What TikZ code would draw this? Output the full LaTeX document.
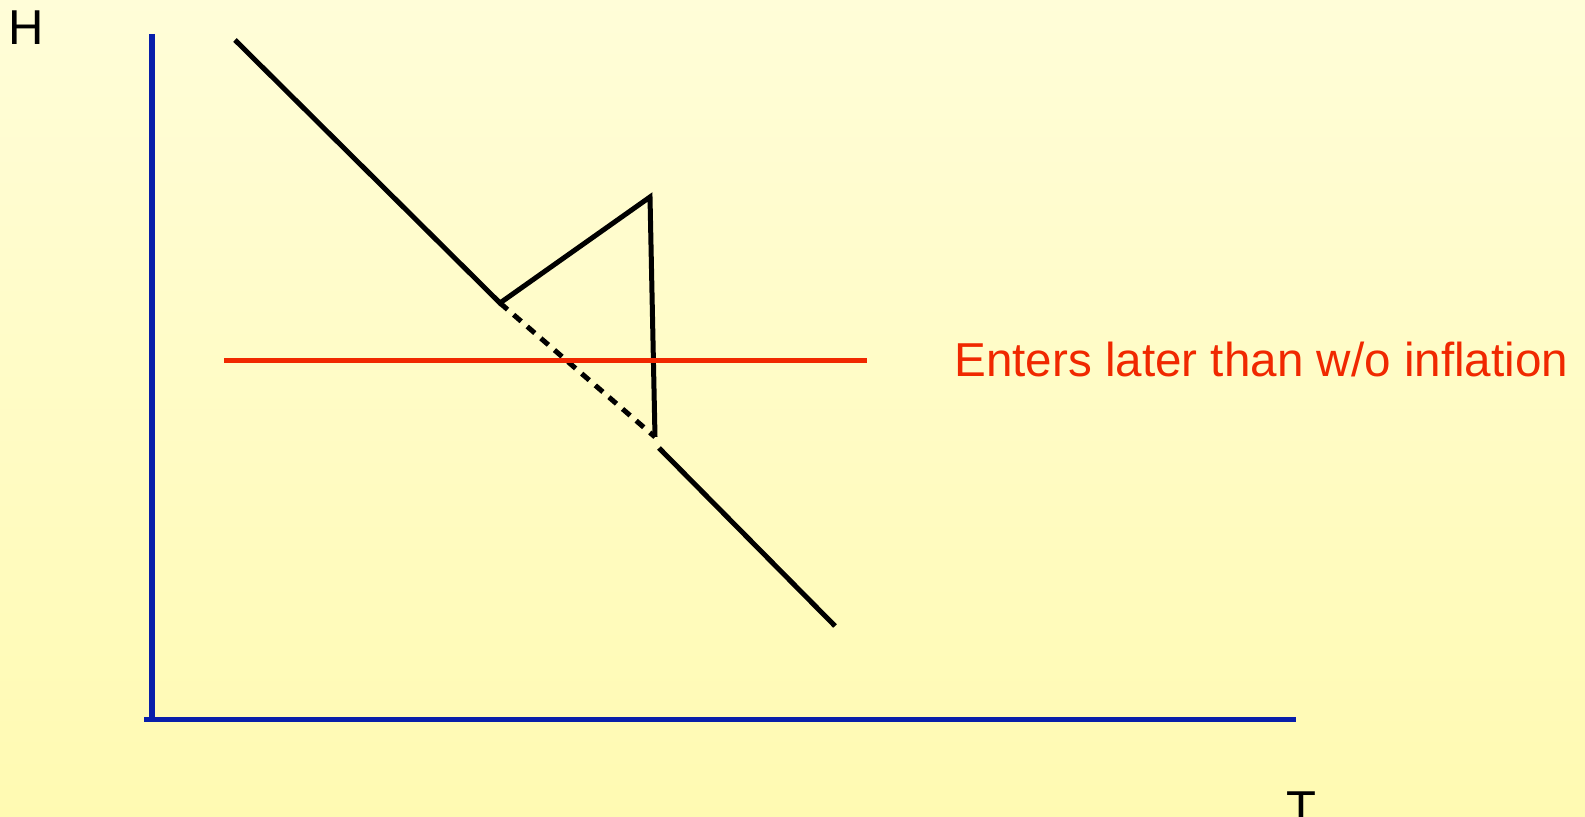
\documentclass[tikz,border=0pt]{standalone}
\usepackage{fontspec}
\setmainfont{Liberation Sans}
\usepackage{xcolor}
\definecolor{SlideTop}{RGB}{255,253,216}
\definecolor{SlideBottom}{RGB}{255,250,178}
\definecolor{AxisBlue}{RGB}{8,30,170}
\definecolor{LineRed}{RGB}{240,40,0}

\begin{document}
\begin{tikzpicture}[
x=0.5pt,y=-0.5pt,
axis/.style={
line width=2.8pt,
draw=AxisBlue
},
curve/.style={
line width=2.5pt,
draw=black
},
level/.style={
line width=2.5pt,
draw=LineRed
},
label/.style={
inner sep=0pt,
anchor=base west,
font=\fontsize{24.5}{28}\selectfont
}
]

\shade[top color=SlideTop,bottom color=SlideBottom] (0,0) rectangle (1585,817);
\useasboundingbox (0,0) rectangle (1585,817);
\clip (0,0) rectangle (1585,817);

\coordinate (top) at (235,40);
\coordinate (kink) at (500,303);
\coordinate (peak) at (650,197);
\coordinate (drop) at (655,437);
\coordinate (rejoin) at (659,448);
\coordinate (end) at (835,626);

\draw[axis] (152,34)--(152,722);
\draw[axis] (144,719.5)--(1296,719.5);

\draw[curve] (top)--(kink)--(peak)--(drop);
\draw[curve,dash pattern=on 5pt off 4pt] (kink)--(drop);
\draw[curve] (rejoin)--(end);

\draw[level] (224,361)--(867,361);

\node[label] (h) at (8,45) {H};
\node[label,anchor=base] (t) at (1301,825) {T};
\node[label,text=LineRed,font=\fontsize{23.8}{28}\selectfont] (enters) at (954,377) {Enters later than w/o inflation};

\end{tikzpicture}
\end{document}
